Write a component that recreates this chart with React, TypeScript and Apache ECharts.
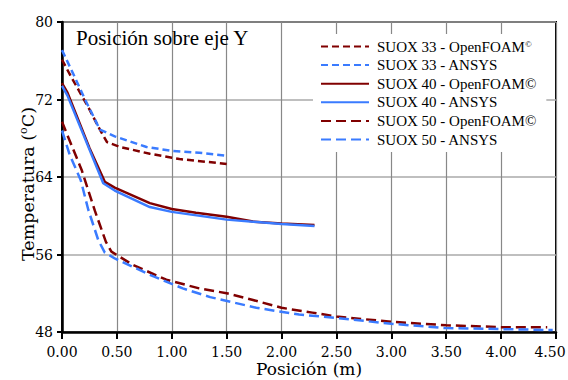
import React, { useEffect, useRef } from "react";
import * as echarts from "echarts";

// ---- Data ----
const seriesNames = [
  "SUOX 33 - OpenFOAM©",
  "SUOX 33 - ANSYS",
  "SUOX 40 - OpenFOAM©",
  "SUOX 40 - ANSYS",
  "SUOX 50 - OpenFOAM©",
  "SUOX 50 - ANSYS",
];

const pos33OF = [0, 0.09, 0.24, 0.33, 0.41, 0.53, 0.8, 1.07, 1.5];
const temp33OF = [76.1, 74.2, 71.2, 69.2, 67.6, 67.1, 66.4, 65.85, 65.35];

const pos33AN = [0, 0.1, 0.21, 0.345, 0.48, 0.77, 1.0, 1.25, 1.5];
const temp33AN = [77.1, 74.7, 72.0, 68.9, 68.2, 67.1, 66.7, 66.5, 66.2];

const pos40OF = [0, 0.05, 0.25, 0.39, 0.48, 0.8, 1.0, 1.22, 1.5, 1.74, 2.0, 2.3];
const temp40OF = [73.7, 72.7, 67.0, 63.5, 62.9, 61.3, 60.7, 60.3, 59.9, 59.4, 59.2, 59.05];

const pos40AN = [0, 0.05, 0.376, 0.48, 0.8, 1.0, 1.5, 2.0, 2.3];
const temp40AN = [73.4, 72.4, 63.35, 62.6, 60.9, 60.4, 59.6, 59.15, 58.95];

const pos50OF = [0, 0.05, 0.18, 0.3, 0.4, 0.45, 0.65, 0.95, 1.25, 1.5, 1.74, 2.0, 2.28, 2.5, 3.0, 3.5, 4.0, 4.42];
const temp50OF = [69.7, 68.3, 64.7, 60.5, 57.3, 56.3, 54.9, 53.4, 52.5, 52.0, 51.3, 50.5, 50.0, 49.6, 49.05, 48.7, 48.5, 48.5];

const pos50AN = [0, 0.07, 0.17, 0.24, 0.33, 0.39, 0.48, 0.8, 1.1, 1.35, 1.77, 2.16, 2.5, 3.0, 3.5, 4.0, 4.47];
const temp50AN = [68.8, 66.3, 63.7, 60.6, 57.5, 56.2, 55.6, 53.9, 52.5, 51.6, 50.5, 49.8, 49.45, 48.85, 48.4, 48.3, 48.2];

const xTicks = [0, 0.5, 1, 1.5, 2, 2.5, 3, 3.5, 4, 4.5];
const yTicks = [48, 56, 64, 72, 80];

const RED = "#800000";
const BLUE = "#3a7bff";

const SERIF = "Liberation Serif";
const DJV = "DejaVu Serif";

function zip(xs: number[], ys: number[]) {
  return xs.map((x, i) => [x, ys[i]]);
}

export default function App() {
  const ref = useRef<HTMLDivElement>(null);

  useEffect(() => {
    if (!ref.current) return;
    const chart = echarts.init(ref.current, null, { renderer: "svg" });

    const mk = (
      name: string,
      xs: number[],
      ys: number[],
      color: string,
      type: any
    ) => ({
      name,
      type: "line",
      data: zip(xs, ys),
      symbol: "none",
      smooth: false,
      lineStyle: { color, width: 2.5, type },
      itemStyle: { color },
      z: 3,
    });

    const xMax = xTicks[xTicks.length - 1];

    const option: any = {
      animation: false,
      backgroundColor: "#ffffff",
      title: {
        text: "Posición sobre eje Y",
        left: 76,
        top: 27,
        padding: 0,
        textStyle: { fontFamily: SERIF, fontSize: 21, fontWeight: "normal", color: "#000" },
      },
      legend: {
        orient: "vertical",
        left: 313,
        top: 34,
        padding: [5, 10, 5, 7],
        backgroundColor: "#ffffff",
        itemWidth: 48,
        itemHeight: 14,
        itemGap: 3.6,
        data: seriesNames,
        itemStyle: { color: "transparent", borderColor: "transparent", borderWidth: 0 },
        formatter: (n: string) =>
          n === seriesNames[0] ? "SUOX 33 - OpenFOAM{sup|©}" : n,
        textStyle: {
          fontFamily: SERIF,
          fontSize: 15,
          color: "#000",
          padding: [0, 0, 0, 3],
          rich: {
            sup: { fontFamily: SERIF, fontSize: 9, verticalAlign: "top", padding: [0, 0, 6, 0], color: "#000" },
          },
        },
      },
      grid: {
        left: 62,
        right: 12,
        top: 22,
        bottom: 48,
        outerBoundsMode: "none",
        containLabel: false,
        show: true,
        borderColor: "#000",
        borderWidth: 2,
        backgroundColor: "transparent",
      },
      xAxis: {
        type: "value",
        min: xTicks[0],
        max: xMax,
        interval: 0.5,
        name: "Posición (m)",
        nameLocation: "middle",
        nameGap: 28,
        nameMoveOverlap: false,
        nameTextStyle: { fontFamily: DJV, fontSize: 17, lineHeight: 18, color: "#000" },
        axisLine: { show: true, onZero: false, lineStyle: { color: "#000", width: 2.5 } },
        axisTick: { show: true, inside: false, length: 7, lineStyle: { color: "#000", width: 2 } },
        axisLabel: {
          margin: 13,
          fontFamily: DJV,
          fontSize: 14,
          color: "#000",
          formatter: (v: number) =>
            v === xMax ? "{last|" + v.toFixed(2) + "}" : v.toFixed(2),
          rich: {
            last: { fontFamily: DJV, fontSize: 14, color: "#000", padding: [0, 12, 0, 0] },
          },
        },
        splitLine: { show: true, lineStyle: { color: "#888", width: 1.2 } },
      },
      yAxis: {
        type: "value",
        min: yTicks[0],
        max: yTicks[yTicks.length - 1],
        interval: 8,
        name: "Temperatura ({sup|o}C)",
        nameLocation: "middle",
        nameGap: 24,
        nameMoveOverlap: false,
        nameRotate: 90,
        nameTextStyle: {
          fontFamily: DJV,
          fontSize: 17.5,
          lineHeight: 20,
          color: "#000",
          padding: [0, 14, 0, 0],
          rich: {
            sup: { fontFamily: DJV, fontSize: 11, verticalAlign: "top", padding: [0, 0, 7, 0], color: "#000" },
          },
        },
        axisLine: { show: true, onZero: false, lineStyle: { color: "#000", width: 2.5 } },
        axisTick: { show: true, inside: false, length: 5, lineStyle: { color: "#000", width: 2 } },
        axisLabel: { margin: 9, fontFamily: DJV, fontSize: 14, color: "#000" },
        splitLine: { show: true, lineStyle: { color: "#aaa", width: 1.5 } },
      },
      series: [
        mk(seriesNames[0], pos33OF, temp33OF, RED, [7, 4]),
        mk(seriesNames[1], pos33AN, temp33AN, BLUE, [7, 4]),
        mk(seriesNames[2], pos40OF, temp40OF, RED, "solid"),
        mk(seriesNames[3], pos40AN, temp40AN, BLUE, "solid"),
        mk(seriesNames[4], pos50OF, temp50OF, RED, [10, 5]),
        mk(seriesNames[5], pos50AN, temp50AN, BLUE, [10, 5]),
      ],
    };

    chart.setOption(option);
    return () => chart.dispose();
  }, []);

  return (
    <div
      ref={ref}
      style={{ position: "fixed", left: 0, top: 0, width: 568, height: 380 }}
    />
  );
}
